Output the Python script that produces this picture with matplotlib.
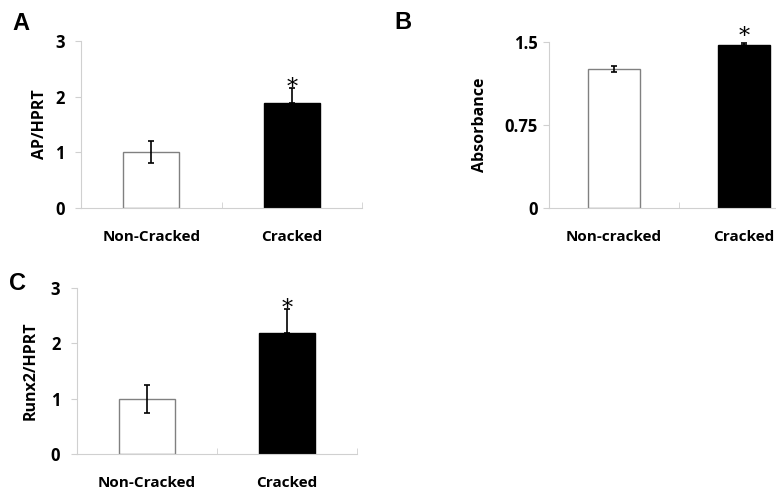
import matplotlib.pyplot as plt

# --- data ---
groups_a = ['Non-Cracked', 'Cracked']
ap_hprt = [1.0, 1.88]
ap_err_lo = [0.2, 0.0]
ap_err_hi = [0.2, 0.27]

groups_b = ['Non-cracked', 'Cracked']
absorbance = [1.256, 1.47]
abs_err_lo = [0.03, 0.0]
abs_err_hi = [0.03, 0.02]

groups_c = ['Non-Cracked', 'Cracked']
runx2_hprt = [1.0, 2.18]
runx2_err_lo = [0.25, 0.0]
runx2_err_hi = [0.25, 0.44]

W, H = 776, 496
fig = plt.figure(figsize=(W / 100, H / 100), dpi=100)
plt.rcParams['font.family'] = ['Open Sans', 'DejaVu Sans']


def add_px_axes(left, right, top, bottom):
    return fig.add_axes([left / W, 1 - bottom / H, (right - left) / W, (bottom - top) / H])


def draw_panel(ax, groups, vals, lo, hi, yticks, yticklabels, ylabel, ylab_x, letter, letter_xy,
               tick_pad, star_off):
    x = range(len(groups))
    ax.bar(x, vals, width=0.4, color=['white', 'black'], edgecolor=['#808080', 'black'], linewidth=1.0, zorder=2)
    ax.errorbar(x, vals, yerr=[lo, hi], fmt='none', ecolor='black', elinewidth=1.2, capsize=2, capthick=1.2, zorder=3)
    # significance star above the cracked bar
    ax.annotate('*', (1, vals[1] + hi[1]), xytext=(0, star_off), textcoords='offset pixels',
                ha='center', va='center', fontsize=16, family='DejaVu Serif', annotation_clip=False)
    ax.set_xlim(-0.5, 1.5)
    ax.set_ylim(0, yticks[-1])
    ax.set_yticks(yticks)
    ax.set_yticklabels(yticklabels, fontsize=12, fontweight='bold')
    ax.set_xticks(list(x))
    ax.set_xticklabels(groups, fontsize=11, fontweight='bold')
    ax.set_xticks([-0.5, 0.5, 1.5], minor=True)
    ax.tick_params(axis='x', which='major', length=0, pad=16)
    ax.tick_params(axis='x', which='minor', direction='in', length=4, color='#d0d0d0')
    ax.tick_params(axis='y', length=4, direction='out', color='#d0d0d0', pad=tick_pad)
    for s in ['top', 'right']:
        ax.spines[s].set_visible(False)
    for s in ['left', 'bottom']:
        ax.spines[s].set_color('#d0d0d0')
    ax.set_ylabel(ylabel, fontsize=11.5, fontweight='bold')
    ax.yaxis.set_label_coords(ylab_x, 0.5)
    fig.text(letter_xy[0] / W, 1 - letter_xy[1] / H, letter, fontsize=17, fontweight='bold',
             family='Liberation Sans', ha='left', va='top')


ax_a = add_px_axes(81, 362, 41, 208)
draw_panel(ax_a, groups_a, ap_hprt, ap_err_lo, ap_err_hi, [0, 1, 2, 3], ['0', '1', '2', '3'],
           'AP/HPRT', -0.117, 'A', (12, 12), 7.5, 0)

ax_b = add_px_axes(549, 809, 42, 208)
draw_panel(ax_b, groups_b, absorbance, abs_err_lo, abs_err_hi, [0, 0.75, 1.5], ['0', '0.75', '1.5'],
           'Absorbance', -0.235, 'B', (394, 11), 4, 6)

ax_c = add_px_axes(77, 357, 288, 454)
draw_panel(ax_c, groups_c, runx2_hprt, runx2_err_lo, runx2_err_hi, [0, 1, 2, 3], ['0', '1', '2', '3'],
           'Runx2/HPRT', -0.136, 'C', (9, 272), 8, 0)

plt.savefig('out.png', dpi=100)
plt.close()
